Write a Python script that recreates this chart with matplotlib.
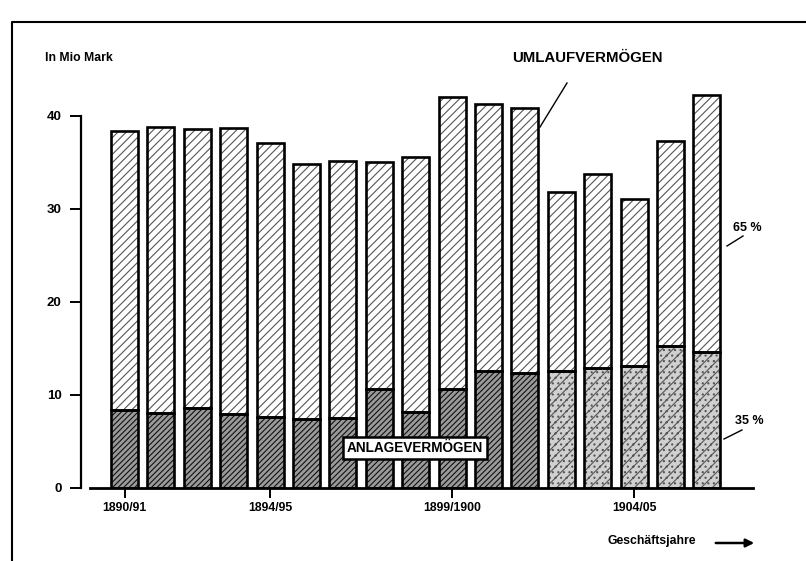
import matplotlib
matplotlib.use("Agg")
import matplotlib.pyplot as plt
from matplotlib.lines import Line2D

# Werte (Mio Mark)
jahre = ["1890/91", "1891/92", "1892/93", "1893/94", "1894/95", "1895/96", "1896/97",
         "1897/98", "1898/99", "1899/1900", "1900/01", "1901/02", "1902/03", "1903/04",
         "1904/05", "1905/06", "1906/07"]
anlage = [8.4, 8.1, 8.6, 8.0, 7.6, 7.4, 7.5, 10.6, 8.2, 10.6, 12.6, 12.4, 12.6, 12.9, 13.1, 15.3, 14.6]
umlauf = [30.0, 30.7, 30.0, 30.7, 29.5, 27.4, 27.7, 24.4, 27.4, 31.4, 28.7, 28.5, 19.2, 20.9, 18.0, 22.0, 27.6]
tick_idx = [0, 4, 9, 14]
y_ticks = [0, 10, 20, 30, 40]

plt.rcParams['font.family'] = ['Liberation Sans Narrow', 'Liberation Sans', 'DejaVu Sans']
plt.rcParams['font.weight'] = 'bold'
plt.rcParams['hatch.linewidth'] = 0.8

W, H = 806, 561
fig = plt.figure(figsize=(W / 100, H / 100), dpi=100)

def px(x, y):
    return x / W, 1 - y / H

# Rahmen (Seitenkante)
fig.add_artist(Line2D([12 / W, 12 / W, 1], [0, 1 - 22 / H, 1 - 22 / H], color='black', lw=1.5))

ax = fig.add_axes([90 / W, 1 - 488 / H, (753 - 90) / W, (488 - 88) / H])
x = list(range(len(jahre)))
bw = 0.74

# Anlagevermoegen: bis 1901/02 schraffiert, danach heller gerastert
for i in x:
    if i < 12:
        ax.bar(i, anlage[i], bw, color='#9a9a9a', edgecolor='#111111', hatch='//////', lw=0)
    else:
        ax.bar(i, anlage[i], bw, color='#d0d0d0', edgecolor='#555555', hatch='///...', lw=0)
ax.bar(x, umlauf, bw, bottom=anlage, color='white', edgecolor='#555555', hatch='////', lw=0)
ax.bar(x, anlage, bw, fill=False, edgecolor='black', lw=1.9)
ax.bar(x, umlauf, bw, bottom=anlage, fill=False, edgecolor='black', lw=1.9)

ax.set_xlim(-0.948, 17.266)
ax.set_ylim(0, 43)
for s in ['top', 'right']:
    ax.spines[s].set_visible(False)
ax.spines['bottom'].set_linewidth(2)
ax.spines['left'].set_linewidth(1.6)
ax.spines['left'].set_position(('outward', 6.5))
ax.spines['left'].set_bounds(0, 40)
ax.set_yticks(y_ticks)
ax.set_yticklabels([str(v) for v in y_ticks], fontsize=9.5, fontweight='bold')
ax.set_xticks(tick_idx)
ax.set_xticklabels([jahre[i] for i in tick_idx], fontsize=8.8, fontweight='bold')
ax.tick_params(axis='y', length=8, width=1.4, pad=6)
ax.tick_params(axis='x', length=7, width=1.4, pad=3)

# Beschriftungen
fig.text(*px(45, 58), "In Mio Mark", fontsize=8.8, fontweight='bold', va='center', ha='left')
fig.text(*px(512, 58), "UMLAUFVERMÖGEN", fontsize=10.8, fontweight='bold', va='center', ha='left')
fig.add_artist(Line2D([567 / W, 540 / W], [1 - 83 / H, 1 - 127 / H], color='black', lw=1))

fig.text(*px(415, 448), "ANLAGEVERMÖGEN", fontsize=9.8, fontweight='bold', va='center', ha='center',
         family=['Liberation Sans', 'DejaVu Sans'],
         bbox=dict(boxstyle='square,pad=0.3', facecolor='white', edgecolor='black', lw=1.8))

fig.text(*px(733, 228), "65 %", fontsize=9, fontweight='bold', va='center', ha='left')
fig.add_artist(Line2D([727 / W, 743 / W], [1 - 246 / H, 1 - 236 / H], color='black', lw=1))
fig.text(*px(735, 421), "35 %", fontsize=9, fontweight='bold', va='center', ha='left')
fig.add_artist(Line2D([724 / W, 742 / W], [1 - 439 / H, 1 - 430 / H], color='black', lw=1))

fig.text(*px(608, 541), "Geschäftsjahre", fontsize=8.8, fontweight='bold', va='center', ha='left')
fig.add_artist(plt.Annotation("", xy=px(757, 543), xytext=px(713, 543),
                              xycoords='figure fraction', textcoords='figure fraction',
                              arrowprops=dict(arrowstyle='-|>', color='black', lw=1.8,
                                              mutation_scale=12)))

fig.savefig("out.png", dpi=100)
